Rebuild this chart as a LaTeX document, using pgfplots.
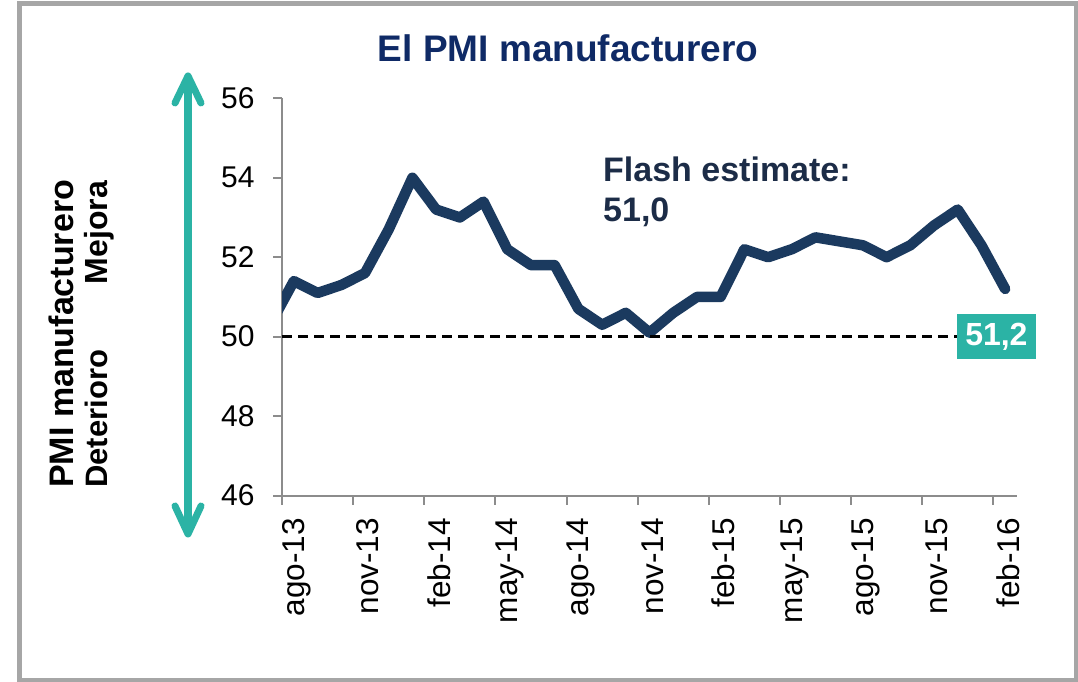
\documentclass[border=0pt]{standalone}
\usepackage{fontspec}
\setmainfont{Liberation Sans}
\usepackage{pgfplots}
\pgfplotsset{compat=1.18}
\definecolor{navyline}{HTML}{1B3A5F}
\definecolor{titleblue}{HTML}{0F2A66}
\definecolor{myteal}{HTML}{2BB3A5}
\definecolor{flashc}{HTML}{1C2C47}
\definecolor{axgray}{HTML}{8C8C8C}
\definecolor{bordergray}{HTML}{A6A6A6}
\begin{document}
\begin{tikzpicture}[x=1bp,y=1bp]
\useasboundingbox (0,0) rectangle (1078,682);
\fill[white] (0,0) rectangle (1078,682);
\draw[bordergray, line width=5bp] (19,1.3) rectangle (1076,678.5);
\begin{axis}[
  at={(282bp,186.4bp)}, anchor=south west, scale only axis,
  width=735bp, height=397.3bp,
  xmin=-0.5, xmax=30.5, ymin=46, ymax=56,
  axis lines=left,
  axis line style={axgray, line width=2bp, -},
  xtick={0,3,...,30},
  xticklabels={ago-13,nov-13,feb-14,may-14,ago-14,nov-14,feb-15,may-15,ago-15,nov-15,feb-16},
  minor xtick={-0.5,2.5,...,29.5},
  ytick={46,48,...,56},
  tick align=outside,
  major tick length=9bp, minor tick length=9bp,
  tick style={axgray, line width=2bp},
  every major x tick/.append style={draw=none},
  ticklabel style={font=\fontsize{30bp}{36bp}\selectfont, text=black},
  /pgf/number format/assume math mode=true,
  xticklabel style={rotate=90, anchor=east, xshift=-10bp, yshift=-3bp, font=\fontsize{31.5bp}{36bp}\selectfont},
  yticklabel style={xshift=-15bp},
  clip mode=individual,
]
\addplot[navyline, line width=10.5bp, line join=round, line cap=round] coordinates {
(-1,50.3) (0,51.4) (1,51.1) (2,51.3) (3,51.6) (4,52.7) (5,54.0) (6,53.2) (7,53.0) (8,53.4)
(9,52.2) (10,51.8) (11,51.8) (12,50.7) (13,50.3) (14,50.6) (15,50.1) (16,50.6) (17,51.0)
(18,51.0) (19,52.2) (20,52.0) (21,52.2) (22,52.5) (23,52.4) (24,52.3) (25,52.0) (26,52.3)
(27,52.8) (28,53.2) (29,52.3) (30,51.2)};
\addplot[black, line width=3.5bp, dash pattern=on 10bp off 6bp] coordinates {(-0.5,50) (27.97,50)};
\node[fill=myteal, text=white, font=\bfseries\fontsize{32bp}{38bp}\selectfont, minimum width=79bp, minimum height=45bp, inner sep=0pt] at (axis cs:29.63,50) {51,2};
\end{axis}
% arrow
\draw[myteal, line width=8bp] (188,606) -- (188,148);
\draw[myteal, line width=7bp, line cap=round, line join=round] (175,579) -- (188,606) -- (201,579);
\draw[myteal, line width=7bp, line cap=round, line join=round] (175,176) -- (188,148) -- (201,176);
% texts
\node[titleblue, font=\bfseries\fontsize{37bp}{44bp}\selectfont, anchor=base, inner sep=0pt] at (568,620) {El PMI manufacturero};
\node[flashc, font=\bfseries\fontsize{34bp}{40bp}\selectfont, anchor=base west, inner sep=0pt] at (603,500.3) {Flash estimate:};
\node[flashc, font=\bfseries\fontsize{34bp}{40bp}\selectfont, anchor=base west, inner sep=0pt] at (603,460) {51,0};
\node[rotate=90, anchor=base west, font=\bfseries\fontsize{34bp}{40bp}\selectfont, inner sep=0pt] at (73,194) {PMI manufacturero};
\node[rotate=90, anchor=base east, font=\bfseries\fontsize{32bp}{38bp}\selectfont, inner sep=0pt] at (107,501) {Mejora};
\node[rotate=90, anchor=base west, font=\bfseries\fontsize{31bp}{38bp}\selectfont, inner sep=0pt] at (107,194) {Deterioro};
\end{tikzpicture}
\end{document}
